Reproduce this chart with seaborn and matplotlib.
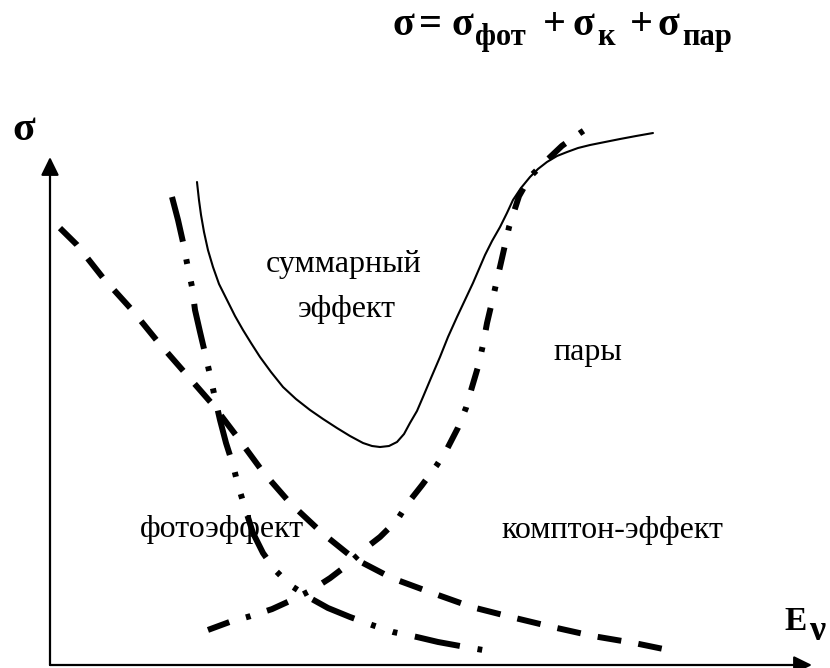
import matplotlib
matplotlib.use("Agg")
import matplotlib.pyplot as plt
import seaborn as sns
import pandas as pd

# ---- data (arbitrary units: E along x, sigma along y) ----
compton_E = [0.131, 0.354, 0.696, 1.076, 1.417, 1.772, 2.139, 2.467, 2.795, 3.150,
             3.570, 3.976, 4.488, 5.013, 5.538, 6.063, 6.588, 7.126, 7.677, 8.228]
compton_s = [8.60, 8.27, 7.62, 6.99, 6.36, 5.75, 5.12, 4.47, 3.80, 3.19,
             2.60, 2.11, 1.71, 1.42, 1.14, 0.94, 0.75, 0.57, 0.43, 0.26]

photo_E = [1.601, 1.680, 1.745, 1.798, 1.864, 1.903, 1.969, 2.034, 2.100, 2.165,
           2.231, 2.310, 2.402, 2.467, 2.559, 2.664, 2.795, 2.953, 3.150, 3.412,
           3.648, 3.937, 4.226, 4.501, 4.816, 5.092, 5.381, 5.682]
photo_s = [9.213, 8.760, 8.327, 7.913, 7.441, 6.988, 6.555, 6.142, 5.709, 5.256,
           4.823, 4.370, 3.937, 3.543, 3.091, 2.598, 2.205, 1.870, 1.575, 1.319,
           1.122, 0.945, 0.787, 0.650, 0.551, 0.453, 0.374, 0.295]

pair_E = [2.073, 2.362, 2.625, 2.913, 3.176, 3.438, 3.675, 3.937, 4.108, 4.331,
          4.554, 4.698, 4.882, 5.079, 5.210, 5.354, 5.459, 5.538, 5.617, 5.682,
          5.735, 5.801, 5.866, 5.932, 6.024, 6.155, 6.299, 6.522, 6.719, 6.955, 7.113]
pair_s = [0.69, 0.85, 0.96, 1.10, 1.28, 1.48, 1.71, 2.01, 2.26, 2.52,
          2.85, 3.19, 3.54, 3.94, 4.25, 4.67, 5.06, 5.47, 5.87, 6.30,
          6.73, 7.15, 7.58, 8.01, 8.62, 9.23, 9.61, 9.94, 10.22, 10.47, 10.63]

total_E = [1.929, 1.955, 1.982, 2.021, 2.073, 2.139, 2.218, 2.323, 2.428, 2.533,
           2.638, 2.756, 2.900, 3.058, 3.228, 3.412, 3.583, 3.766, 3.937, 4.108,
           4.226, 4.331, 4.449, 4.554, 4.646, 4.724, 4.816, 4.895, 5.000, 5.118,
           5.223, 5.341, 5.446, 5.551, 5.630, 5.709, 5.801, 5.906, 5.997, 6.076,
           6.181, 6.299, 6.404, 6.522, 6.654, 6.785, 6.929, 7.087, 7.283, 7.480,
           7.690, 7.913]
total_s = [9.508, 9.154, 8.858, 8.524, 8.169, 7.835, 7.500, 7.185, 6.870, 6.594,
           6.339, 6.063, 5.768, 5.472, 5.236, 5.020, 4.843, 4.665, 4.508, 4.370,
           4.311, 4.291, 4.311, 4.390, 4.547, 4.764, 5.000, 5.276, 5.650, 6.063,
           6.457, 6.850, 7.185, 7.520, 7.795, 8.071, 8.346, 8.622, 8.898, 9.154,
           9.390, 9.606, 9.764, 9.902, 10.020, 10.098, 10.177, 10.236, 10.295, 10.354,
           10.413, 10.472]

label_total = ["суммарный", "эффект"]
label_pair = "пары"
label_photo = "фотоэффект"
label_compton = "комптон-эффект"
title_parts = ["σ", "=", "σ", "фот", "+", "σ", "к", "+", "σ", "пар"]
y_label = "σ"
x_label = ["E", "ν"]

# ---- style ----
sns.set_theme(style="white")
plt.rcParams["font.family"] = ["Liberation Serif", "DejaVu Serif"]
plt.rcParams["text.color"] = "black"

W, H = 830, 668
fig = plt.figure(figsize=(W / 100, H / 100), dpi=100)
fig.patch.set_facecolor("white")
ax = fig.add_axes([50 / W, 3 / H, 762 / W, 508 / H])
ax.set_xlim(0, 10)
ax.set_ylim(0, 10)
ax.axis("off")

lw = 4.3
df_c = pd.DataFrame({"E": compton_E, "s": compton_s})
df_p = pd.DataFrame({"E": photo_E, "s": photo_s})
df_q = pd.DataFrame({"E": pair_E, "s": pair_s})
df_t = pd.DataFrame({"E": total_E, "s": total_s})

sns.lineplot(data=df_c, x="E", y="s", ax=ax, sort=False, estimator=None,
             color="black", lw=lw, linestyle=(0, (4.0, 2.9)), clip_on=False)
sns.lineplot(data=df_p, x="E", y="s", ax=ax, sort=False, estimator=None,
             color="black", lw=lw, linestyle=(0, (7.7, 3.0, 0.8, 3.0, 0.8, 3.0)), clip_on=False)
sns.lineplot(data=df_q, x="E", y="s", ax=ax, sort=False, estimator=None,
             color="black", lw=lw, linestyle=(0, (3.8, 2.9, 0.8, 2.9)), clip_on=False)
sns.lineplot(data=df_t, x="E", y="s", ax=ax, sort=False, estimator=None,
             color="black", lw=1.5, clip_on=False)
for ln in ax.get_lines():
    ln.set_dash_capstyle("butt")
    ln.set_solid_capstyle("round")
    ln.set_solid_joinstyle("round")

# axis arrows
arrow_kw = dict(arrowstyle="-|>,head_length=0.55,head_width=0.27", color="black",
                lw=1.6, mutation_scale=20, shrinkA=0, shrinkB=0)
ax.annotate("", xy=(0, 1.0), xytext=(0, 0), xycoords="axes fraction",
            textcoords="axes fraction", arrowprops=arrow_kw, annotation_clip=False)
ax.annotate("", xy=(1.0, 0), xytext=(0, 0), xycoords="axes fraction",
            textcoords="axes fraction", arrowprops=arrow_kw, annotation_clip=False)


def px(x, y):
    return x / W, 1 - y / H


fs = 23
fig.text(*px(344, 272), label_total[0], ha="center", va="baseline", fontsize=fs)
fig.text(*px(347, 317), label_total[1], ha="center", va="baseline", fontsize=fs)
fig.text(*px(588, 360), label_pair, ha="center", va="baseline", fontsize=fs)
fig.text(*px(222, 537), label_photo, ha="center", va="baseline", fontsize=fs)
fig.text(*px(612, 538), label_compton, ha="center", va="baseline", fontsize=fs)

# title formula, built from pieces (main + subscripts)
title_x = [392, 419, 451, 475, 543, 572, 597, 630, 657, 682]
title_sub = [False, False, False, True, False, False, True, False, False, True]
for t, x0, sub in zip(title_parts, title_x, title_sub):
    if sub:
        fig.text(*px(x0, 45), t, ha="left", va="baseline", fontsize=22, fontweight="bold")
    else:
        fig.text(*px(x0, 35), t, ha="left", va="baseline", fontsize=29, fontweight="bold")

fig.text(*px(12, 140), y_label, ha="left", va="baseline", fontsize=30, fontweight="bold")
fig.text(*px(784, 630), x_label[0], ha="left", va="baseline", fontsize=24, fontweight="bold")
fig.text(*px(809, 640), x_label[1], ha="left", va="baseline", fontsize=26, fontweight="bold")

fig.savefig("out.png", dpi=100, facecolor="white")
